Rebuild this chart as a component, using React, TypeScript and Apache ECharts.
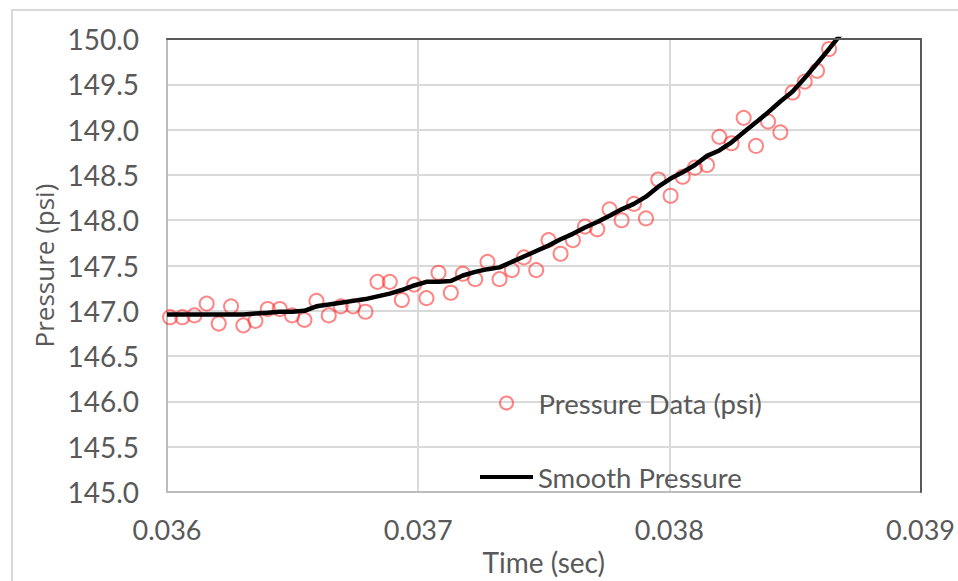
import React, { useEffect, useRef } from "react";
import * as echarts from "echarts";

// Sample times (sec) of the measured points
const timeSec = [
  0.036012, 0.036061, 0.036109, 0.036158, 0.036206, 0.036255, 0.036304, 0.036352,
  0.036401, 0.036449, 0.036498, 0.036547, 0.036595, 0.036644, 0.036692, 0.036741,
  0.03679, 0.036838, 0.036887, 0.036935, 0.036984, 0.037033, 0.037081, 0.03713,
  0.037178, 0.037227, 0.037276, 0.037324, 0.037373, 0.037421, 0.03747, 0.037519,
  0.037567, 0.037616, 0.037664, 0.037713, 0.037762, 0.03781, 0.037859, 0.037907,
  0.037956, 0.038005, 0.038053, 0.038102, 0.03815, 0.038199, 0.038248, 0.038296,
  0.038345, 0.038393, 0.038442, 0.038491, 0.038539, 0.038588, 0.038636,
];

// Measured pressure (psi)
const pressureData = [
  146.93, 146.93, 146.95, 147.08, 146.86, 147.05, 146.84, 146.89,
  147.02, 147.02, 146.95, 146.9, 147.11, 146.95, 147.05, 147.05,
  146.99, 147.32, 147.32, 147.12, 147.29, 147.14, 147.42, 147.2,
  147.41, 147.35, 147.54, 147.35, 147.45, 147.59, 147.45, 147.78,
  147.63, 147.78, 147.93, 147.9, 148.12, 148.0, 148.18, 148.02,
  148.45, 148.27, 148.48, 148.58, 148.61, 148.92, 148.85, 149.13,
  148.82, 149.09, 148.97, 149.41, 149.53, 149.65, 149.89,
];

// Smoothed curve
const smoothTime = [
  0.036, 0.036061, 0.036109, 0.036158, 0.036206, 0.036255, 0.036304, 0.036352,
  0.036401, 0.036449, 0.036498, 0.036547, 0.036595, 0.036644, 0.036692, 0.036741,
  0.03679, 0.036838, 0.036887, 0.036935, 0.036984, 0.037033, 0.037081, 0.03713,
  0.037178, 0.037227, 0.037276, 0.037324, 0.037373, 0.037421, 0.03747, 0.037519,
  0.037567, 0.037616, 0.037664, 0.037713, 0.037762, 0.03781, 0.037859, 0.037907,
  0.037956, 0.038005, 0.038053, 0.038102, 0.03815, 0.038199, 0.038248, 0.038296,
  0.038345, 0.038393, 0.038442, 0.038491, 0.038539, 0.038588, 0.038636, 0.038685,
];
const smoothPressure = [
  146.96, 146.96, 146.96, 146.96, 146.96, 146.96, 146.96, 146.97,
  146.98, 146.99, 146.99, 147.0, 147.05, 147.07, 147.09, 147.11,
  147.13, 147.16, 147.19, 147.23, 147.28, 147.32, 147.32, 147.33,
  147.39, 147.43, 147.46, 147.48, 147.54, 147.6, 147.66, 147.72,
  147.79, 147.85, 147.92, 147.98, 148.05, 148.12, 148.18, 148.26,
  148.37, 148.46, 148.53, 148.61, 148.71, 148.77, 148.86, 148.97,
  149.08, 149.19, 149.31, 149.42, 149.57, 149.73, 149.89, 150.06,
];

// Axis ranges
const xRange = [0.036, 0.039];
const xStep = 0.001;
const yRange = [145, 150];
const yStep = 0.5;

const seriesNames = ["Pressure Data (psi)", "Smooth Pressure"];

const TEXT = "#595959";
const CAL = "Lato, 'Open Sans', sans-serif";
const RED = "rgba(255, 30, 30, 0.68)";

export default function App() {
  const ref = useRef<HTMLDivElement>(null);
  useEffect(() => {
    const chart = echarts.init(ref.current!, null, { renderer: "svg" });
    chart.setOption({
      animation: false,
      backgroundColor: "#ffffff",
      textStyle: { fontFamily: CAL },
      grid: { left: 167, top: 39, width: 754, height: 464, show: false },
      graphic: [
        {
          type: "rect",
          silent: true,
          shape: { x: 12, y: 10, width: 1000, height: 1000 },
          style: { fill: "none", stroke: "#d9d9d9", lineWidth: 2 },
        },
      ],
      xAxis: [
        {
          type: "value",
          min: xRange[0],
          max: xRange[1],
          interval: xStep,
          name: "Time (sec)",
          nameLocation: "middle",
          nameGap: 50,
          nameTextStyle: { fontFamily: CAL, fontSize: 28, color: TEXT },
          axisLine: { show: true, onZero: false, lineStyle: { color: "#bcbcbc", width: 2 } },
          axisTick: { show: false },
          axisLabel: {
            margin: 24,
            fontSize: 27,
            fontFamily: CAL,
            color: TEXT,
            formatter: (v: number) => v.toFixed(3),
          },
          splitLine: { show: true, lineStyle: { color: "#d9d9d9", width: 2 } },
        },
        {
          type: "value",
          position: "top",
          min: xRange[0],
          max: xRange[1],
          interval: xStep,
          z: 5,
          axisLine: { show: true, onZero: false, lineStyle: { color: "#595959", width: 2 } },
          axisTick: { show: false },
          axisLabel: { show: false },
          splitLine: { show: false },
        },
      ],
      yAxis: [
        {
          type: "value",
          min: yRange[0],
          max: yRange[1],
          interval: yStep,
          name: "Pressure (psi)",
          nameLocation: "middle",
          nameGap: 102,
          nameTextStyle: { fontFamily: "'Open Sans', sans-serif", fontSize: 26, color: TEXT },
          axisLine: { show: true, onZero: false, lineStyle: { color: "#bcbcbc", width: 2 } },
          axisTick: { show: false },
          axisLabel: {
            margin: 28,
            fontSize: 28,
            fontFamily: CAL,
            color: TEXT,
            formatter: (v: number) => v.toFixed(1),
          },
          splitLine: { show: true, lineStyle: { color: "#d9d9d9", width: 2 } },
        },
        {
          type: "value",
          position: "right",
          min: yRange[0],
          max: yRange[1],
          interval: yStep,
          z: 5,
          axisLine: { show: true, onZero: false, lineStyle: { color: "#595959", width: 2 } },
          axisTick: { show: false },
          axisLabel: { show: false },
          splitLine: { show: false },
        },
      ],
      legend: [
        {
          data: [
            {
              name: seriesNames[0],
              icon: "circle",
              itemStyle: { color: "rgba(255,255,255,0)", borderColor: RED, borderWidth: 2 },
            },
          ],
          left: 499,
          top: 389,
          padding: 0,
          itemWidth: 54,
          itemHeight: 13,
          textStyle: { fontFamily: CAL, fontSize: 27.5, color: TEXT },
        },
        {
          data: [{ name: seriesNames[1], icon: "rect", itemStyle: { color: "#000" } }],
          left: 480,
          top: 463,
          padding: 0,
          itemWidth: 53,
          itemHeight: 4,
          textStyle: { fontFamily: CAL, fontSize: 27.5, color: TEXT },
        },
      ],
      series: [
        {
          type: "scatter",
          name: seriesNames[0],
          data: timeSec.map((t, i) => [t, pressureData[i]]),
          symbol: "circle",
          symbolSize: 14,
          itemStyle: { color: "rgba(255,255,255,0)", borderColor: RED, borderWidth: 2 },
        },
        {
          type: "line",
          name: seriesNames[1],
          data: smoothTime.map((t, i) => [t, smoothPressure[i]]),
          symbol: "none",
          showSymbol: false,
          clip: true,
          lineStyle: { color: "#000", width: 4.5 },
          itemStyle: { color: "#000" },
        },
      ],
    });
    return () => chart.dispose();
  }, []);
  return (
    <div
      ref={ref}
      style={{ position: "fixed", left: 0, top: 0, width: 958, height: 581, background: "#fff" }}
    />
  );
}
